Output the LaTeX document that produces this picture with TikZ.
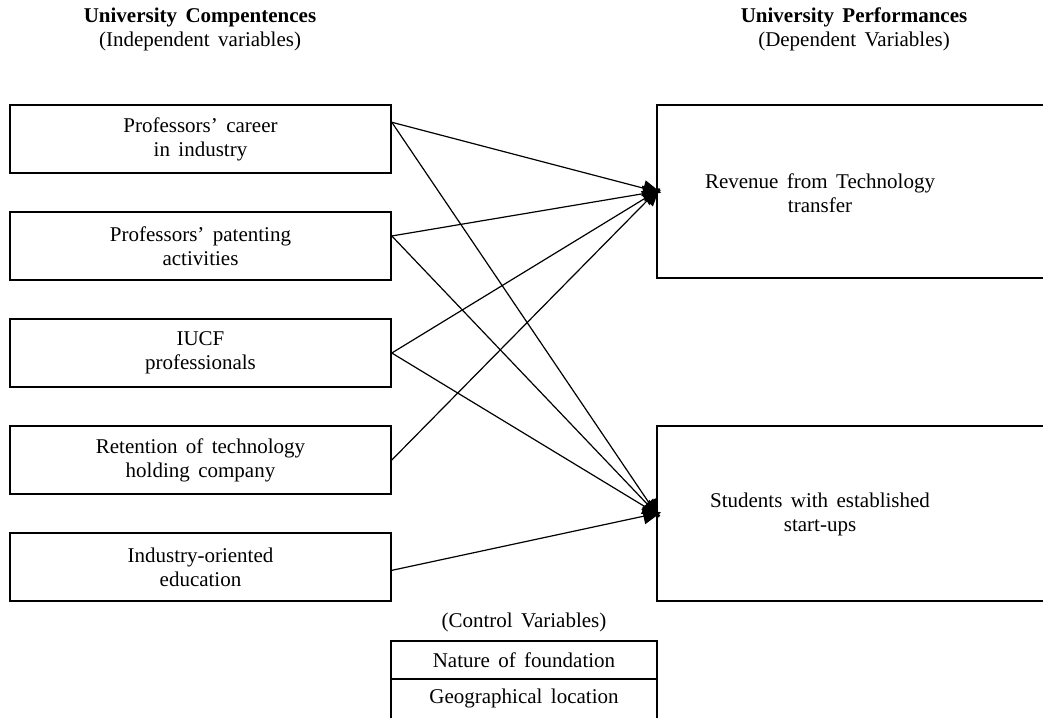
\documentclass[tikz,border=0pt]{standalone}
\usepackage{fontspec}
\setmainfont{Liberation Serif}[WordSpace=1.6]
\usetikzlibrary{arrows.meta}
\tikzset{
  ivbox/.style={draw, line width=0.8pt, minimum width=190.5pt, minimum height=34pt, align=center},
  dvbox/.style={draw, line width=0.8pt, minimum width=221.5pt, inner sep=0pt},
  lbl/.style={align=center, inner sep=0pt},
  arr/.style={line width=0.6pt, shorten >=-2.5pt, arrows={-Triangle[length=9pt, width=8pt]}}
}

\begin{document}
\begin{tikzpicture}[font=\fontsize{10.5}{12}\selectfont, x=0.5pt, y=-0.5pt]
  % 1 unit = 1 px of the 1043x717 frame, y downwards
  \useasboundingbox (0,0) rectangle (1043,717);
  \clip (0,0) rectangle (1043,717);
  % headings
  \node[lbl] (ivh) at (200,29) {\textbf{University Compentences}\\(Independent variables)};
  \node[lbl] (dvh) at (854,29) {\textbf{University Performances}\\(Dependent Variables)};
  % independent variables
  \node[ivbox] (b1) at (200.5,139) {Professors’ career\\in industry};
  \node[ivbox] (b2) at (200.5,246) {Professors’ patenting\\activities};
  \node[ivbox] (b3) at (200.5,353) {IUCF\\professionals};
  \node[ivbox] (b4) at (200.5,460) {Retention of technology\\holding company};
  \node[ivbox] (b5) at (200.5,567) {Industry-oriented\\education};
  % dependent variables (open to the right)
  \node[dvbox, minimum height=86.5pt] (rv) at (878.5,191.5) {};
  \node[dvbox, minimum height=87.5pt] (st) at (878.5,513.5) {};
  \node[lbl] (rvt) at (820,193) {Revenue from Technology\\transfer};
  \node[lbl] (stt) at (820,514) {Students with established\\start-ups};
  % control variables
  \node[lbl] (cvh) at (524,622) {(Control Variables)};
  \draw[line width=0.8pt] (391,760) |- (657,641) -- (657,760);
  \draw[line width=0.8pt] (391,679) -- (657,679);
  \node[lbl] (cvf) at (524,660) {Nature of foundation};
  \node[lbl] (cvg) at (524,698) {Geographical location};
  % hypotheses
  \draw[arr] (b1.5) -- (rv.west);
  \draw[arr] (b1.5) -- (st.west);
  \draw[arr] (b2.3) -- (rv.west);
  \draw[arr] (b2.3) -- (st.west);
  \draw[arr] (b3.east) -- (rv.west);
  \draw[arr] (b3.east) -- (st.west);
  \draw[arr] (b4.east) -- (rv.west);
  \draw[arr] (b5.-1) -- (st.west);
\end{tikzpicture}
\end{document}
